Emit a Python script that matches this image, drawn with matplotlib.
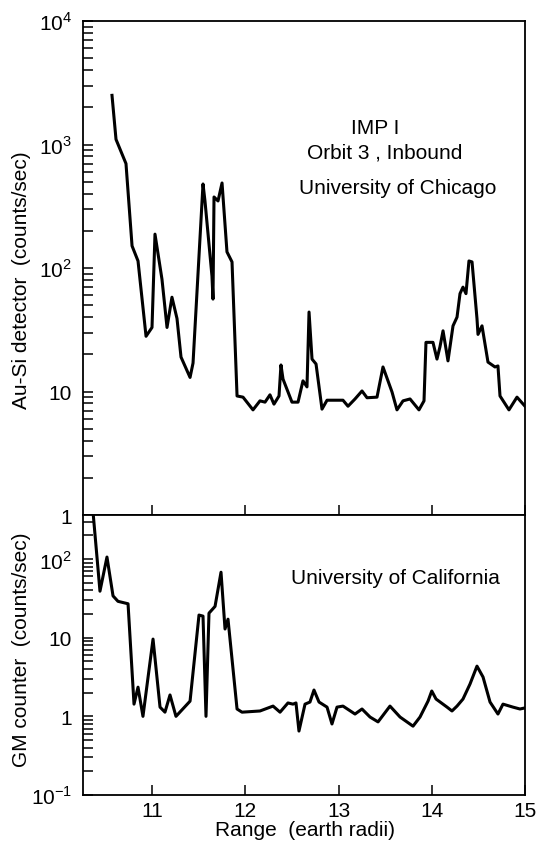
import matplotlib
matplotlib.use("Agg")
import matplotlib.pyplot as plt
from matplotlib.ticker import LogLocator, NullFormatter, FixedLocator

plt.rcParams['font.family'] = ['Liberation Sans', 'DejaVu Sans']
plt.rcParams['mathtext.fontset'] = 'custom'
plt.rcParams['mathtext.rm'] = 'Liberation Sans'

# University of Chicago Au-Si detector (counts/sec)
chicago_range = [10.571, 10.614, 10.721, 10.786, 10.850, 10.936, 11.0, 11.032, 11.107, 11.161,
                 11.214, 11.268, 11.311, 11.408, 11.44, 11.547, 11.568, 11.643, 11.654, 11.665,
                 11.708, 11.751, 11.804, 11.858, 11.912, 11.976, 12.083, 12.158, 12.212, 12.265,
                 12.308, 12.362, 12.383, 12.405, 12.501, 12.566, 12.619, 12.662, 12.684, 12.716,
                 12.759, 12.823, 12.877, 13.048, 13.102, 13.177, 13.252, 13.306, 13.413, 13.477,
                 13.574, 13.627, 13.692, 13.767, 13.863, 13.917, 13.938, 14.013, 14.056, 14.088,
                 14.121, 14.174, 14.228, 14.271, 14.303, 14.335, 14.367, 14.399, 14.432, 14.485,
                 14.496, 14.539, 14.603, 14.678, 14.710, 14.732, 14.828, 14.914, 15.0]
chicago_counts = [2500, 1100, 700, 151, 114, 28, 33, 188, 81, 33,
                  58, 39, 19, 13, 17, 479, 349, 86, 56, 376,
                  349, 488, 135, 112, 9.2, 9.0, 7.1, 8.4, 8.2, 9.4,
                  7.9, 9.2, 16.4, 12.6, 8.2, 8.2, 12.2, 10.9, 44, 18.3,
                  16.7, 7.2, 8.5, 8.5, 7.6, 8.7, 10.1, 8.9, 9.0, 15.8,
                  9.9, 7.1, 8.4, 8.7, 7.1, 8.4, 25, 25, 18.3, 23,
                  31, 17.7, 34, 40, 62, 70, 62, 114, 112, 39,
                  29, 34, 17.3, 15.8, 16.1, 9.2, 7.1, 9.0, 7.6]

# University of California GM counter (counts/sec)
california_range = [10.36, 10.442, 10.517, 10.582, 10.635, 10.743, 10.807, 10.850, 10.903, 11.011,
                    11.086, 11.139, 11.193, 11.257, 11.408, 11.504, 11.547, 11.579, 11.611, 11.676,
                    11.740, 11.783, 11.815, 11.912, 11.965, 12.158, 12.298, 12.373, 12.458, 12.512,
                    12.544, 12.576, 12.641, 12.694, 12.737, 12.791, 12.877, 12.930, 12.984, 13.048,
                    13.177, 13.252, 13.338, 13.424, 13.552, 13.660, 13.799, 13.874, 13.960, 14.0,
                    14.046, 14.164, 14.217, 14.271, 14.335, 14.410, 14.485, 14.550, 14.625, 14.710,
                    14.764, 14.871, 14.946, 15.0]
california_counts = [500, 39, 106, 34, 29, 27, 1.43, 2.35, 1.0, 9.6,
                     1.31, 1.13, 1.87, 1.0, 1.56, 19.4, 18.8, 1.0, 20.5, 25,
                     68, 12.9, 17.2, 1.24, 1.13, 1.17, 1.35, 1.13, 1.48, 1.43,
                     1.48, 0.65, 1.43, 1.52, 2.16, 1.52, 1.31, 0.80, 1.31, 1.35,
                     1.07, 1.24, 0.98, 0.85, 1.35, 0.98, 0.75, 0.98, 1.56, 2.1,
                     1.66, 1.31, 1.17, 1.35, 1.66, 2.57, 4.35, 3.16, 1.52, 1.07,
                     1.43, 1.31, 1.24, 1.28]

x_ticks = [11, 12, 13, 14, 15]
top_yticks = [1, 10, 100, 1000, 10000]
top_ylabels = ['1', '10', r'$10^2$', r'$10^3$', r'$10^4$']
bot_yticks = [0.1, 1, 10, 100]
bot_ylabels = [r'$10^{-1}$', '1', '10', r'$10^2$']

W, H = 538, 853
fig = plt.figure(figsize=(W / 100, H / 100), dpi=100)
left, right = 83 / W, 525 / W
ax1 = fig.add_axes([left, 1 - 516 / H, right - left, (516 - 22) / H])
ax2 = fig.add_axes([left, 1 - 796 / H, right - left, (796 - 516) / H])

ax1.plot(chicago_range, chicago_counts, color='black', lw=2.2, solid_joinstyle='round')
ax2.plot(california_range, california_counts, color='black', lw=2.2, solid_joinstyle='round')

for ax in (ax1, ax2):
    ax.set_yscale('log')
    ax.set_xlim(10.26, 15)
    ax.xaxis.set_major_locator(FixedLocator(x_ticks))
    ax.yaxis.set_minor_locator(LogLocator(base=10, subs=range(2, 10), numticks=20))
    ax.yaxis.set_minor_formatter(NullFormatter())
    ax.tick_params(axis='both', which='both', direction='in', top=False, right=False,
                   length=7, width=1.1, labelsize=15)
    for s in ax.spines.values():
        s.set_linewidth(1.3)

ax1.set_ylim(1, 10000)
ax1.set_yticks(top_yticks)
ax1.set_yticklabels(top_ylabels)
ax1.tick_params(axis='x', labelbottom=False)
ax1.tick_params(axis='y', pad=8)

ax2.set_ylim(0.1, 363)
ax2.set_yticks(bot_yticks)
ax2.set_yticklabels(bot_ylabels)
ax2.set_xticklabels([str(t) for t in x_ticks])
ax2.tick_params(axis='y', pad=8)
ax2.tick_params(axis='x', pad=4)

fig.text(375 / W, 1 - 128 / H, 'IMP I', ha='center', va='center', fontsize=15)
fig.text(385 / W, 1 - 153 / H, 'Orbit 3 , Inbound', ha='center', va='center', fontsize=15)
fig.text(398 / W, 1 - 188 / H, 'University of Chicago', ha='center', va='center', fontsize=15)
fig.text(395 / W, 1 - 578 / H, 'University of California', ha='center', va='center', fontsize=15)

fig.text(22 / W, 1 - 280 / H, 'Au-Si detector  (counts/sec)', rotation=90,
         ha='center', va='center', fontsize=15)
fig.text(22 / W, 1 - 650 / H, 'GM counter  (counts/sec)', rotation=90,
         ha='center', va='center', fontsize=15)
fig.text(305 / W, 1 - 831 / H, 'Range  (earth radii)', ha='center', va='center', fontsize=15)

fig.savefig('out.png', dpi=100, facecolor='white')
